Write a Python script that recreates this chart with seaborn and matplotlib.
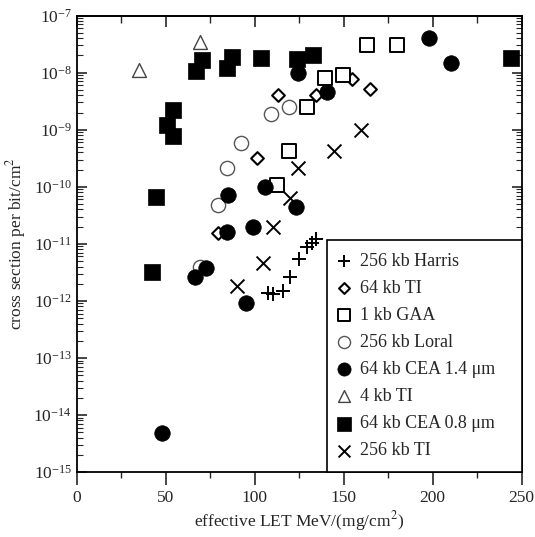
import pandas as pd
import matplotlib
matplotlib.use("Agg")
import matplotlib.pyplot as plt
import seaborn as sns
from matplotlib.ticker import MultipleLocator, LogLocator, NullFormatter

sns.set_theme(style="white")
plt.rcParams['font.family'] = ['Liberation Serif', 'DejaVu Serif']
plt.rcParams['mathtext.fontset'] = 'stix'

# data (LET in MeV/(mg/cm2), cross section in cm2/bit)
harris_let = [107.8, 110.5, 116.2, 120.0, 125.2, 129.3, 132.1, 134.5]
harris_xs = [1.35e-12, 1.3e-12, 1.5e-12, 2.6e-12, 5.4e-12, 8.9e-12, 1.05e-11, 1.2e-11]

ti64_let = [79.7, 101.6, 113.4, 134.4, 154.6, 164.9]
ti64_xs = [1.55e-11, 3.2e-10, 4.1e-9, 4.1e-9, 7.8e-9, 5.1e-9]

gaa_let = [112.5, 119.6, 129.3, 139.6, 149.9, 163.0, 179.9]
gaa_xs = [1.07e-10, 4.2e-10, 2.5e-9, 8.0e-9, 9.1e-9, 3.1e-8, 3.1e-8]

loral_let = [69.4, 79.7, 84.4, 92.4, 109.1, 119.6]
loral_xs = [3.9e-12, 4.8e-11, 2.1e-10, 5.9e-10, 1.9e-9, 2.5e-9]

cea14_let = [47.9, 66.6, 72.8, 84.7, 85.3, 95.2, 99.0, 105.9, 123.3, 124.6, 140.6, 198.2, 210.4]
cea14_xs = [4.9e-15, 2.6e-12, 3.7e-12, 1.6e-11, 7.2e-11, 9.1e-13, 2.0e-11, 1.0e-10,
            4.5e-11, 9.8e-9, 4.5e-9, 4.1e-8, 1.47e-8]

ti4_let = [35.1, 69.4]
ti4_xs = [1.1e-8, 3.5e-8]

cea08_let = [42.2, 44.7, 51.0, 54.0, 54.4, 67.0, 70.7, 84.4, 87.2, 103.7, 123.7, 132.7, 244.0]
cea08_xs = [3.2e-12, 6.5e-11, 1.2e-9, 2.2e-9, 7.8e-10, 1.07e-8, 1.66e-8, 1.2e-8,
            1.9e-8, 1.8e-8, 1.7e-8, 2.0e-8, 1.8e-8]

ti256_let = [90.0, 105.0, 110.2, 119.9, 124.6, 144.7, 159.8]
ti256_xs = [1.8e-12, 4.7e-12, 1.95e-11, 6.3e-11, 2.1e-10, 4.2e-10, 1.0e-9]

series = {
    '256 kb Harris': (harris_let, harris_xs),
    '64 kb TI': (ti64_let, ti64_xs),
    '1 kb GAA': (gaa_let, gaa_xs),
    '256 kb Loral': (loral_let, loral_xs),
    '64 kb CEA 1.4 μm': (cea14_let, cea14_xs),
    '4 kb TI': (ti4_let, ti4_xs),
    '64 kb CEA 0.8 μm': (cea08_let, cea08_xs),
    '256 kb TI': (ti256_let, ti256_xs),
}
rows = []
for name, (xs, ys) in series.items():
    for a, b in zip(xs, ys):
        rows.append({'device': name, 'let': a, 'xs': b})
df = pd.DataFrame(rows)

# marker style per device
styles = {
    '256 kb Harris': dict(marker='+', s=90, color='black', linewidth=1.4),
    '64 kb TI': dict(marker='D', s=42, color='white', edgecolor='black', linewidth=1.5),
    '1 kb GAA': dict(marker='s', s=105, color='white', edgecolor='black', linewidth=1.4),
    '256 kb Loral': dict(marker='o', s=105, color='white', edgecolor='#555555', linewidth=1.0),
    '64 kb CEA 1.4 μm': dict(marker='o', s=125, color='black', edgecolor='black', linewidth=0.5),
    '4 kb TI': dict(marker='^', s=100, color='white', edgecolor='#444444', linewidth=1.0),
    '64 kb CEA 0.8 μm': dict(marker='s', s=135, color='black', edgecolor='black', linewidth=0.5),
    '256 kb TI': dict(marker='x', s=100, color='black', linewidth=1.4),
}
draw_order = ['256 kb Loral', '64 kb TI', '1 kb GAA', '256 kb Harris', '256 kb TI',
              '4 kb TI', '64 kb CEA 1.4 μm', '64 kb CEA 0.8 μm']

fig = plt.figure(figsize=(5.35, 5.37), dpi=100)
ax = fig.add_axes([0.143, 0.121, 0.832, 0.850])

for name in draw_order:
    sub = df[df['device'] == name]
    sns.scatterplot(data=sub, x='let', y='xs', ax=ax, label=name, zorder=3, **styles[name])

ax.set_yscale('log')
ax.set_xlim(0, 250)
ax.set_ylim(1e-15, 1e-7)

ax.xaxis.set_major_locator(MultipleLocator(50))
ax.xaxis.set_minor_locator(MultipleLocator(25))
ax.yaxis.set_major_locator(LogLocator(base=10, numticks=20))
ax.yaxis.set_minor_locator(LogLocator(base=10, subs=range(2, 10), numticks=100))
ax.yaxis.set_minor_formatter(NullFormatter())

ax.tick_params(axis='x', which='major', direction='out', length=9, width=1.2, labelsize=12.5, pad=4, bottom=True)
ax.tick_params(axis='x', which='minor', direction='out', length=4, width=1.0, bottom=True)
ax.tick_params(axis='y', which='major', direction='in', length=7, width=1.2, labelsize=12.5,
               left=True, right=True)
ax.tick_params(axis='y', which='minor', direction='in', length=4, width=0.8, left=True, right=True)

top = ax.secondary_xaxis('top')
top.xaxis.set_major_locator(MultipleLocator(50))
top.xaxis.set_minor_locator(MultipleLocator(25))
top.tick_params(which='major', direction='in', length=8, width=1.2, labeltop=False)
top.tick_params(which='minor', direction='in', length=5, width=1.0)

for sp in ax.spines.values():
    sp.set_color('black')
    sp.set_linewidth(1.3)
top.spines['top'].set_linewidth(1.3)

ax.set_xlabel('effective LET MeV/(mg/cm$^2$)', fontsize=12.5, labelpad=2)
ax.set_ylabel('cross section per bit/cm$^2$', fontsize=12.5, labelpad=4)

h, l = ax.get_legend_handles_labels()
order = list(series.keys())
hl = dict(zip(l, h))
leg = ax.legend([hl[k] for k in order], order, loc='lower left',
                bbox_to_anchor=(0.563, 0, 0.437, 1), mode='expand',
                borderaxespad=0, frameon=True, fancybox=False, edgecolor='black',
                fontsize=13, handletextpad=0.6, handlelength=0.5, labelspacing=0.56,
                borderpad=0.7, framealpha=1, markerscale=0.85)
leg.get_frame().set_linewidth(1.2)

fig.savefig('out.png', dpi=100)
